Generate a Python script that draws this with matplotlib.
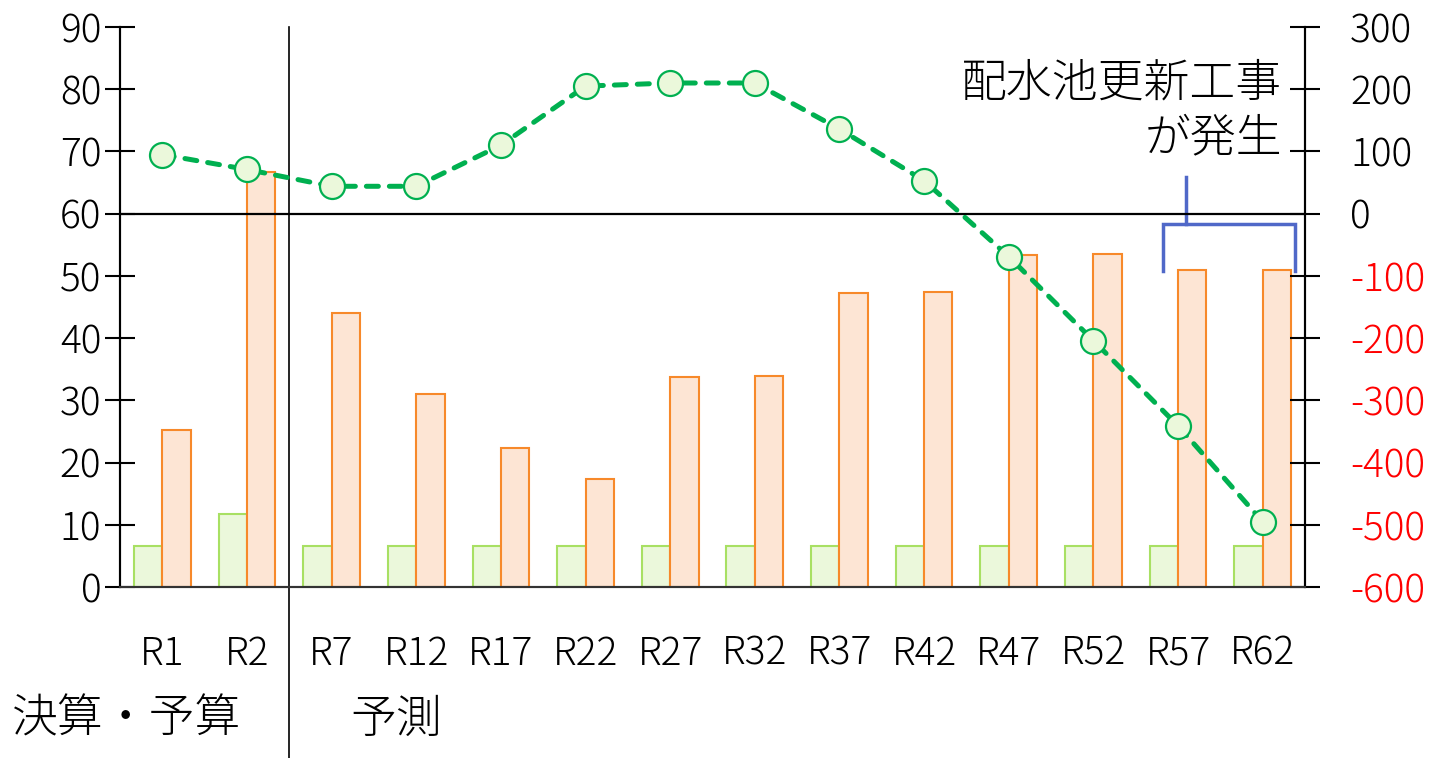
import numpy as np
import matplotlib.pyplot as plt

plt.rcParams['font.family'] = ['Noto Sans CJK JP', 'DejaVu Sans']
plt.rcParams['font.weight'] = 'light'
plt.rcParams['axes.unicode_minus'] = False

# data
labels = ['R1', 'R2', 'R7', 'R12', 'R17', 'R22', 'R27', 'R32',
          'R37', 'R42', 'R47', 'R52', 'R57', 'R62']
green_bars = [6.6, 11.7, 6.6, 6.6, 6.6, 6.6, 6.6, 6.6, 6.6, 6.6, 6.6, 6.6, 6.6, 6.6]
orange_bars = [25.2, 66.7, 44.0, 31.0, 22.3, 17.4, 33.7, 33.9,
               47.3, 47.4, 53.4, 53.5, 50.9, 50.9]
line_vals = [95, 71, 44, 44, 110, 205, 210, 210, 136, 53, -69, -204, -341, -495]
left_ticks = list(range(0, 91, 10))
right_ticks = list(range(-600, 301, 100))

W, H = 1437, 758
fig = plt.figure(figsize=(W / 100, H / 100), dpi=100)
ax = fig.add_axes([120 / W, (H - 587) / H, 1185 / W, 560 / H])
ax2 = ax.twinx()

x = np.arange(len(labels))
bw = 0.335
ax.bar(x - bw / 2, green_bars, bw, color='#ebf8db', edgecolor='#a8e063', linewidth=1.5, zorder=2)
ax.bar(x + bw / 2, orange_bars, bw, color='#fde5d4', edgecolor='#f7892a', linewidth=1.5, zorder=2)

ax2.axhline(0, color='black', lw=1.6, zorder=1)
ax2.plot(x, line_vals, color='#00b050', lw=3.6, linestyle=(0, (2.4, 2.2)),
         dash_capstyle='round', marker='o', markersize=18,
         markerfacecolor='#ebf8db', markeredgecolor='#00b050', markeredgewidth=1.6, zorder=5)

ax.set_xlim(-0.5, len(labels) - 0.5)
ax.set_ylim(0, 90)
ax2.set_ylim(-600, 300)

ax.set_yticks(left_ticks)
ax2.set_yticks(right_ticks)
ax.set_xticks(x)
ax.set_xticklabels(labels)

ax.tick_params(axis='y', direction='inout', length=21, width=1.5, labelsize=28, pad=3)
ax2.tick_params(axis='y', direction='inout', length=21, width=1.5, labelsize=28, pad=22)
ax.tick_params(axis='x', length=0, labelsize=28, pad=34)
for lab, v in zip(ax2.get_yticklabels(), right_ticks):
    lab.set_color('#ff0000' if v < 0 else 'black')

for a in (ax, ax2):
    a.spines['top'].set_visible(False)
    a.spines['left'].set_linewidth(1.5)
    a.spines['right'].set_linewidth(1.5)
    a.spines['bottom'].set_linewidth(1.5)
    a.spines['bottom'].set_color('#333333')

# separator between actual and forecast
ax.axvline(1.5, ymin=-0.31, ymax=1, color='black', lw=1.2, clip_on=False, zorder=1)

ax.text(-0.091, -0.237, '決算・予算', transform=ax.transAxes, fontsize=33,
        ha='left', va='center')
ax.text(0.194, -0.237, '予測', transform=ax.transAxes, fontsize=33,
        ha='left', va='center')

# bracket for reservoir renewal
bc = '#5068c8'
ax.plot([11.82, 11.82, 13.38, 13.38], [50.8, 58.4, 58.4, 50.8], color=bc, lw=2.5,
        solid_joinstyle='miter', zorder=6)
ax.plot([12.09, 12.09], [58.4, 65.9], color=bc, lw=2.5, zorder=6)
ax.text(0.981, 0.85, '配水池更新工事\nが発生', transform=ax.transAxes, fontsize=33,
        ha='right', va='center', multialignment='right', linespacing=1.2, zorder=7)

fig.savefig('out.png', dpi=100)
